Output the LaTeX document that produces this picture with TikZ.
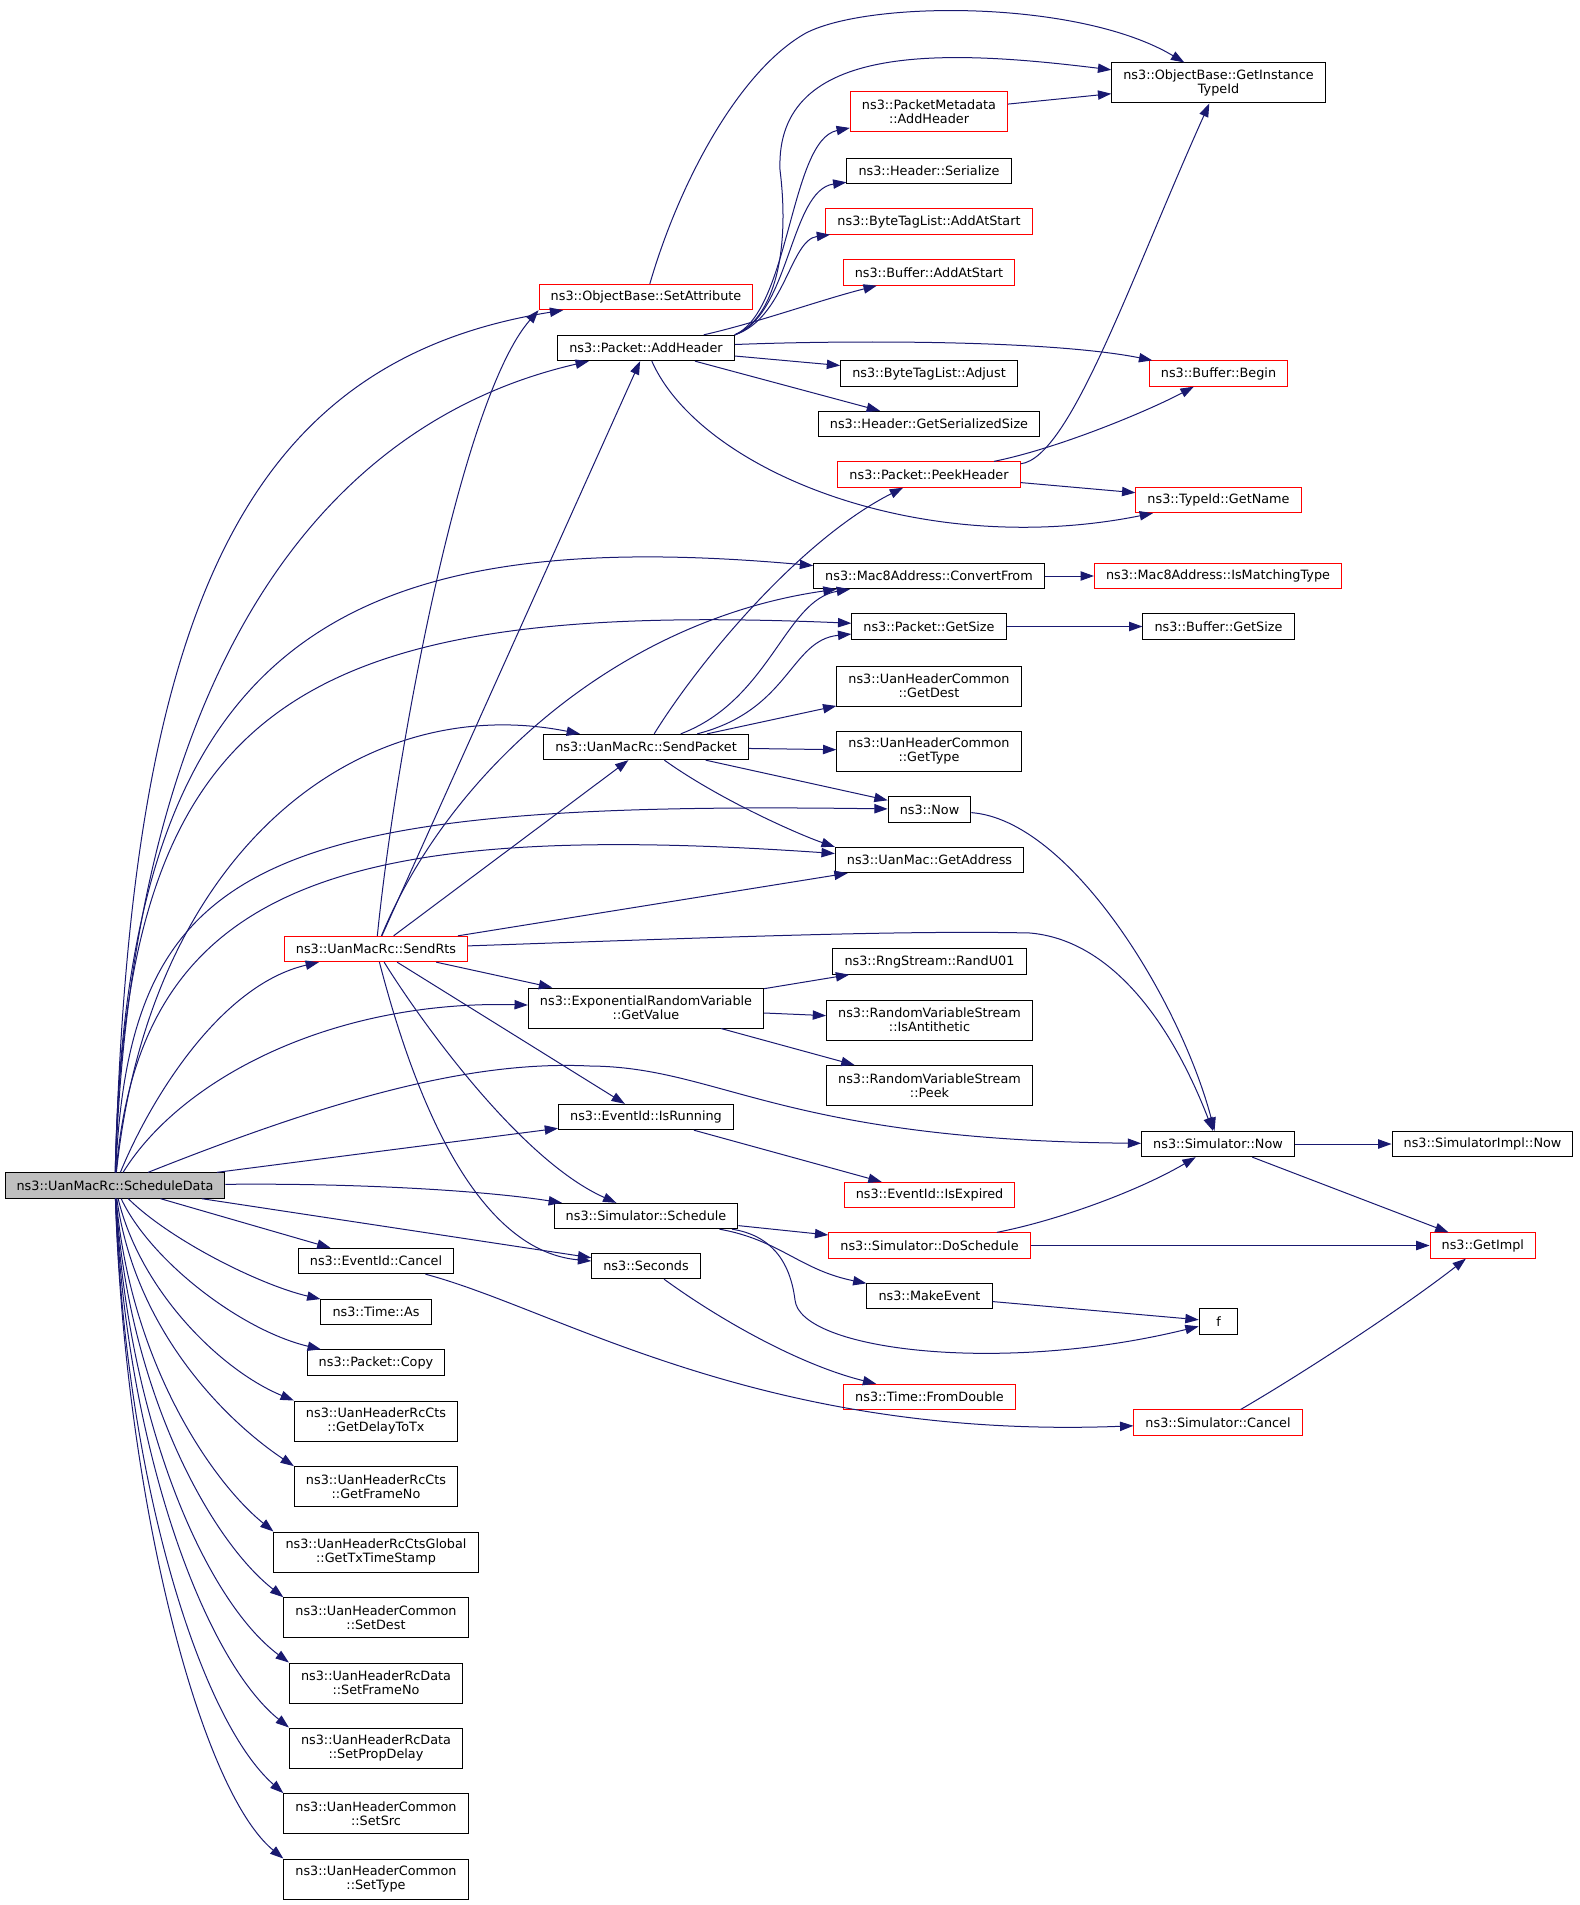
\documentclass[tikz,border=0pt]{standalone}
\usepackage{fontspec}
\setmainfont{DejaVu Sans}
\usetikzlibrary{arrows.meta}
\definecolor{callblue}{HTML}{191970}
\definecolor{boxred}{HTML}{FF0000}
\definecolor{rootgray}{HTML}{BFBFBF}
\tikzset{
  fn/.style={draw=black, fill=white, line width=0.75pt, font=\fontsize{9.6}{10.8}\selectfont,
    align=center, inner xsep=8.7pt, inner ysep=3pt, minimum height=19pt},
  two/.style={minimum height=30pt},
  more/.style={draw=boxred},
  root/.style={fill=rootgray},
  call/.style={draw=callblue, line width=0.75pt, -{Triangle[length=10pt,width=7pt]}}
}

\begin{document}
\begin{tikzpicture}[x=0.75pt, y=-0.75pt]
\useasboundingbox (0,0) rectangle (1579,1905);

\node[fn, root] (sd) at (115,1185.5) {ns3::UanMacRc::ScheduleData};

\node[fn, more] (setattr) at (646,297) {ns3::ObjectBase::SetAttribute};
\node[fn] (addhdr) at (646,348) {ns3::Packet::AddHeader};
\node[fn] (sendpkt) at (646,747) {ns3::UanMacRc::SendPacket};
\node[fn, more] (sendrts) at (376,949) {ns3::UanMacRc::SendRts};
\node[fn, two] (expget) at (646,1008) {ns3::ExponentialRandomVariable\\::GetValue};
\node[fn] (isrun) at (646,1117) {ns3::EventId::IsRunning};
\node[fn] (sched) at (646,1216) {ns3::Simulator::Schedule};
\node[fn] (seconds) at (646,1266) {ns3::Seconds};
\node[fn] (cancel) at (376,1261) {ns3::EventId::Cancel};
\node[fn] (timeas) at (376,1312) {ns3::Time::As};
\node[fn] (pktcopy) at (376,1362.5) {ns3::Packet::Copy};
\node[fn, two] (delaytx) at (376,1421) {ns3::UanHeaderRcCts\\::GetDelayToTx};
\node[fn, two] (ctsframe) at (376,1486.6) {ns3::UanHeaderRcCts\\::GetFrameNo};
\node[fn, two] (txstamp) at (376,1552) {ns3::UanHeaderRcCtsGlobal\\::GetTxTimeStamp};
\node[fn, two] (setdest) at (376,1617.7) {ns3::UanHeaderCommon\\::SetDest};
\node[fn, two] (setframe) at (376,1683) {ns3::UanHeaderRcData\\::SetFrameNo};
\node[fn, two] (setprop) at (376,1748) {ns3::UanHeaderRcData\\::SetPropDelay};
\node[fn, two] (setsrc) at (376,1813.6) {ns3::UanHeaderCommon\\::SetSrc};
\node[fn, two] (settype) at (376,1879) {ns3::UanHeaderCommon\\::SetType};

\node[fn, two, more] (pmaddhdr) at (929,112) {ns3::PacketMetadata\\::AddHeader};
\node[fn] (hserial) at (929,171) {ns3::Header::Serialize};
\node[fn, more] (btlstart) at (929,221.5) {ns3::ByteTagList::AddAtStart};
\node[fn, more] (bufstart) at (929,272.5) {ns3::Buffer::AddAtStart};
\node[fn] (btladj) at (929,373.5) {ns3::ByteTagList::Adjust};
\node[fn] (sersize) at (929,424) {ns3::Header::GetSerializedSize};
\node[fn, more] (peekhdr) at (929,474.5) {ns3::Packet::PeekHeader};
\node[fn] (convfrom) at (929,576) {ns3::Mac8Address::ConvertFrom};
\node[fn] (getsize) at (929,626.5) {ns3::Packet::GetSize};
\node[fn, two] (getdest) at (929,686) {ns3::UanHeaderCommon\\::GetDest};
\node[fn, two] (gettype) at (929,751) {ns3::UanHeaderCommon\\::GetType};
\node[fn] (now) at (929.5,809.5) {ns3::Now};
\node[fn] (getaddr) at (929.5,860) {ns3::UanMac::GetAddress};
\node[fn] (randu) at (929.5,961.5) {ns3::RngStream::RandU01};
\node[fn, two] (isanti) at (929.5,1020) {ns3::RandomVariableStream\\::IsAntithetic};
\node[fn, two] (peek) at (929.5,1085.5) {ns3::RandomVariableStream\\::Peek};
\node[fn, more] (isexp) at (929.5,1195) {ns3::EventId::IsExpired};
\node[fn, more] (dosched) at (929.5,1245.5) {ns3::Simulator::DoSchedule};
\node[fn] (makeev) at (929.5,1296) {ns3::MakeEvent};
\node[fn, more] (fromdbl) at (929.5,1397) {ns3::Time::FromDouble};

\node[fn, two] (instype) at (1218.5,83) {ns3::ObjectBase::GetInstance\\TypeId};
\node[fn, more] (bufbegin) at (1218.5,373.5) {ns3::Buffer::Begin};
\node[fn, more] (getname) at (1218.5,500) {ns3::TypeId::GetName};
\node[fn, more] (ismatch) at (1218,576) {ns3::Mac8Address::IsMatchingType};
\node[fn] (bufsize) at (1218.5,626.5) {ns3::Buffer::GetSize};
\node[fn] (simnow) at (1218,1144) {ns3::Simulator::Now};
\node[fn, minimum width=29pt] (fcall) at (1218.5,1321.5) {f};
\node[fn, more] (simcancel) at (1218,1422.6) {ns3::Simulator::Cancel};

\node[fn] (implnow) at (1482.5,1144) {ns3::SimulatorImpl::Now};
\node[fn, more] (getimpl) at (1482.8,1245.5) {ns3::GetImpl};

% calls made by ScheduleData
\draw[call] (sd) .. controls (130,600) and (250,360) .. (setattr);
\draw[call] (sd) .. controls (130,720) and (290,430) .. (addhdr);
\draw[call] (sd) .. controls (125,650) and (330,522) .. (convfrom);
\draw[call] (sd) .. controls (125,700) and (300,600) .. (getsize);
\draw[call] (sd) .. controls (150,850) and (360,690) .. (sendpkt);
\draw[call] (sd) .. controls (130,860) and (260,800) .. (now);
\draw[call] (sd) .. controls (140,880) and (350,820) .. (getaddr);
\draw[call] (sd) .. controls (150,1100) and (220,985) .. (sendrts);
\draw[call] (sd) .. controls (180,1080) and (330,1000) .. (expget);
\draw[call] (sd) .. controls (330,1100) and (470,1060) .. (590,1066)
  .. controls (720,1067) and (780,1140) .. (simnow);
\draw[call] (sd) -- (isrun);
\draw[call] (sd) .. controls (350,1183) and (480,1190) .. (sched);
\draw[call] (sd) -- (seconds);
\draw[call] (sd) -- (cancel);
\draw[call] (sd) .. controls (170,1240) and (260,1285) .. (timeas);
\draw[call] (sd) .. controls (150,1260) and (240,1330) .. (pktcopy);
\draw[call] (sd) .. controls (140,1290) and (220,1370) .. (delaytx.north west);
\draw[call] (sd) .. controls (135,1330) and (225,1420) .. (ctsframe.north west);
\draw[call] (sd) .. controls (130,1360) and (210,1480) .. (txstamp.north west);
\draw[call] (sd) .. controls (128,1390) and (210,1540) .. (setdest.north west);
\draw[call] (sd) .. controls (127,1420) and (205,1600) .. (setframe.north west);
\draw[call] (sd) .. controls (126,1450) and (205,1660) .. (setprop.north west);
\draw[call] (sd) .. controls (125,1480) and (200,1720) .. (setsrc.north west);
\draw[call] (sd) .. controls (125,1500) and (200,1790) .. (settype.north west);

% SendRts
\draw[call] (sendrts) .. controls (395,760) and (460,400) .. (setattr.south west);
\draw[call] (sendrts) -- (addhdr);
\draw[call] (sendrts) .. controls (450,770) and (620,620) .. (convfrom);
\draw[call] (sendrts) -- (sendpkt);
\draw[call] (sendrts) -- (getaddr);
\draw[call] (sendrts) .. controls (700,938) and (900,930) .. (1030,933)
  .. controls (1110,940) and (1170,1020) .. (simnow);
\draw[call] (sendrts) -- (expget);
\draw[call] (sendrts) -- (isrun);
\draw[call] (sendrts) .. controls (420,1020) and (520,1160) .. (sched);
\draw[call] (sendrts) .. controls (410,1080) and (470,1250) .. (seconds);

% SendPacket
\draw[call] (sendpkt) .. controls (700,660) and (800,540) .. (peekhdr);
\draw[call] (sendpkt) .. controls (770,700) and (785,600) .. (convfrom);
\draw[call] (sendpkt) .. controls (790,710) and (790,640) .. (getsize);
\draw[call] (sendpkt) -- (getdest);
\draw[call] (sendpkt) -- (gettype);
\draw[call] (sendpkt) -- (now);
\draw[call] (sendpkt) .. controls (720,800) and (800,835) .. (getaddr.north west);

% AddHeader and SetAttribute
\draw[call] (addhdr.north east) .. controls (775,318) and (790,250) .. (780,170)
  .. controls (775,40) and (950,50) .. (instype);
\draw[call] (addhdr.north east) .. controls (790,310) and (790,140) .. (pmaddhdr);
\draw[call] (addhdr.north east) .. controls (790,315) and (790,190) .. (hserial);
\draw[call] (addhdr.north east) .. controls (785,318) and (790,240) .. (btlstart);
\draw[call] (addhdr) .. controls (760,322) and (820,300) .. (bufstart);
\draw[call] (addhdr) .. controls (850,340) and (1050,340) .. (bufbegin);
\draw[call] (addhdr) -- (btladj);
\draw[call] (addhdr) -- (sersize);
\draw[call] (addhdr) .. controls (700,470) and (920,560) .. (getname);
\draw[call] (setattr) .. controls (680,180) and (740,70) .. (806,33)
  .. controls (870,0) and (1080,0) .. (instype);
\draw[call] (pmaddhdr) -- (instype);

% further down
\draw[call] (peekhdr) .. controls (1070,458) and (1130,280) .. (instype);
\draw[call] (peekhdr) .. controls (1060,448) and (1150,410) .. (bufbegin);
\draw[call] (peekhdr) -- (getname);
\draw[call] (convfrom) -- (ismatch);
\draw[call] (getsize) -- (bufsize);
\draw[call] (now) .. controls (1070,820) and (1180,1000) .. (simnow);
\draw[call] (expget) -- (randu);
\draw[call] (expget) -- (isanti);
\draw[call] (expget) -- (peek);
\draw[call] (isrun) -- (isexp);
\draw[call] (sched) -- (dosched);
\draw[call] (sched) .. controls (780,1240) and (800,1270) .. (makeev);
\draw[call] (sched) .. controls (770,1235) and (790,1260) .. (795,1300)
  .. controls (800,1350) and (1000,1375) .. (fcall);
\draw[call] (makeev) -- (fcall);
\draw[call] (seconds) .. controls (720,1320) and (800,1365) .. (fromdbl);
\draw[call] (cancel) .. controls (560,1310) and (760,1440) .. (simcancel);
\draw[call] (simnow) -- (implnow);
\draw[call] (simnow) -- (getimpl);
\draw[call] (dosched) .. controls (1060,1220) and (1140,1190) .. (simnow);
\draw[call] (dosched) -- (getimpl);
\draw[call] (simcancel) .. controls (1300,1375) and (1400,1310) .. (getimpl);
\end{tikzpicture}
\end{document}
